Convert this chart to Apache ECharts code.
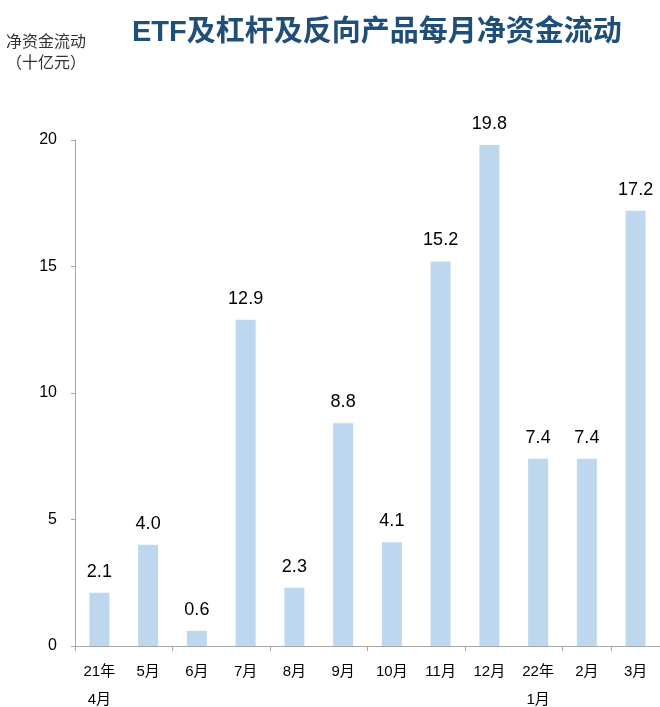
<!DOCTYPE html>
<html><head><meta charset="utf-8">
<script src="https://cdn.jsdelivr.net/npm/echarts@6/dist/echarts.min.js"></script>
<style>html,body{margin:0;padding:0;background:#fff}#c{width:660px;height:707px}</style>
</head><body><div id="c"></div>
<script>
const categories = ['21年\n4月','5月','6月','7月','8月','9月','10月','11月','12月','22年\n1月','2月','3月'];
const values = [2.1, 4.0, 0.6, 12.9, 2.3, 8.8, 4.1, 15.2, 19.8, 7.4, 7.4, 17.2];
const yTicks = [0, 5, 10, 15, 20];
const font = 'Liberation Sans, Arial, Noto Sans CJK SC, sans-serif';
const chart = echarts.init(document.getElementById('c'));
chart.setOption({
  animation: false,
  title: {
    text: 'ETF及杠杆及反向产品每月净资金流动',
    left: 127, top: 13,
    textStyle: { fontFamily: font, fontSize: 29, fontWeight: 'bold', color: '#1F4E79' }
  },
  graphic: [{
    type: 'text', left: 6, top: 32,
    style: { text: '净资金流动\n（十亿元）', font: '16px ' + font, fill: '#333', lineHeight: 21 }
  }],
  grid: { left: 75, right: 0, top: 140, bottom: 61, containLabel: false, outerBoundsMode: 'none' },
  xAxis: {
    type: 'category', data: categories,
    axisLine: { lineStyle: { color: '#A6A6A6', width: 1 } },
    axisTick: { show: true, interval: 1, length: 5, lineStyle: { color: '#A6A6A6' } },
    axisLabel: { interval: 0, fontFamily: font, fontSize: 15, color: '#000', lineHeight: 28, margin: 12 }
  },
  yAxis: {
    type: 'value', min: yTicks[0], max: yTicks[yTicks.length - 1], interval: 5,
    axisLine: { show: true, lineStyle: { color: '#A6A6A6' } },
    axisTick: { show: true, length: 4, inside: false, lineStyle: { color: '#A6A6A6' } },
    splitLine: { show: false },
    axisLabel: { fontFamily: font, fontSize: 16, color: '#000', margin: 18 }
  },
  series: [{
    type: 'bar', data: values, barWidth: 20,
    itemStyle: { color: '#BDD7EE' },
    label: { show: true, position: 'top', distance: 12, fontFamily: font, fontSize: 18, color: '#000',
      formatter: p => p.value.toFixed(1) }
  }]
});
</script></body></html>
